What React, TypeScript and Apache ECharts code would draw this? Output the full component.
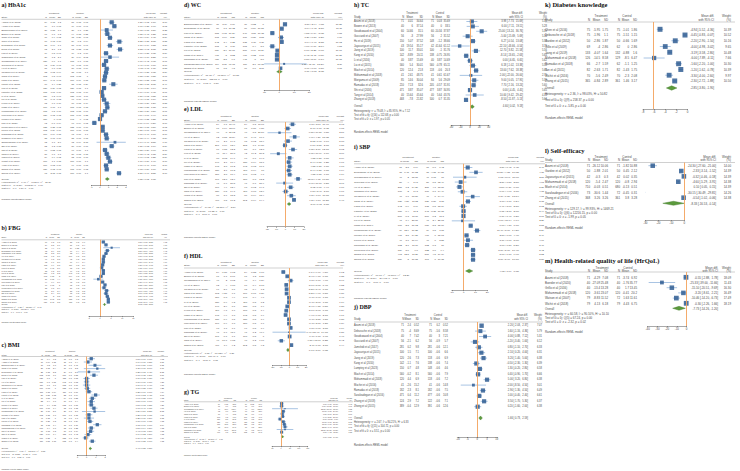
import { useEffect, useRef } from "react";
import * as echarts from "echarts";

type Arm = [number, number, number, number, number, number];
type Eff = [number, number, number, number];
type Ov = [number, number, number];

// ---------- a) HbA1c ----------
const hba1cStudies = ["Adachi et al (2013)", "Azami et al (2018)", "Balamurugan et al (2006)", "Bowen et al (2013)", "Chao et al (2015)", "Chen et al (2016)", "Debussche et al (2018)", "Dong et al (2018)", "Fan et al (2016)", "Gagliardino et al (2013)", "Goudswaard et al (2004)", "Gucciardi et al (2007)", "Hu et al (2019)", "Jayasuriya et al (2015)", "Jiang et al (2019)", "Kang et al (2010)", "Khunti et al (2012)", "Kim et al (2015)", "Lamptey et al (2023)", "Li et al (2016)", "Liu et al (2015)", "Lynch et al (2019)", "Mash et al (2014)", "Mohammadi et al (2018)", "Moriyama et al (2009)", "Muchiri et al (2016)", "Pan et al (2020)", "Pichayapinyo et al (2019)", "Prezio et al (2013)", "Ramadas et al (2018)", "Ruggiero et al (2014)", "Sarafzadegan et al (2016)", "Shi et al (2016)", "Tan et al (2011)", "Tang et al (2014)", "Wang et al (2017)", "Wichit et al (2017)", "Yuan et al (2014)", "Zhang et al (2018)", "Zheng et al (2019)"];
const hba1cArms: Arm[] = [[54, 1.18, 1.2, 51, -0.18, 0.98], [79, 1.6, 0.95, 79, -0.07, 0.91], [30, 0.88, 1.6, 30, 0.1, 1.28], [96, 0.7, 1.3, 94, -0.15, 1.32], [76, 0.9, 1.02, 75, -0.26, 0.98], [60, 1.95, 1.16, 59, -0.3, 1.04], [58, 0.99, 1.1, 57, -0.17, 0.91], [62, 2.1, 1.2, 62, -0.23, 1.05], [79, 0.5, 0.97, 79, -0.2, 1.06], [30, 1.3, 2.1, 29, 0.14, 2.02], [120, 0.6, 1.1, 118, -0.1, 1.08], [92, 0.39, 0.98, 90, -0.08, 1.07], [81, 0.7, 1.05, 80, -0.08, 1.09], [83, 0.62, 0.99, 85, -0.08, 1.1], [103, 0.5, 0.97, 102, -0.08, 1.0], [104, 0.41, 0.98, 100, -0.09, 1.05], [60, 1.4, 1.35, 58, -0.15, 1.39], [120, 0.39, 1.02, 120, -0.08, 1.1], [115, 0.11, 1.06, 112, -0.08, 1.16], [136, 0.2, 0.97, 138, -0.07, 1.11], [89, 0.41, 1.03, 90, -0.06, 1.14], [62, 0.7, 1.16, 60, -0.08, 1.19], [110, 0.77, 1.1, 108, -0.08, 1.15], [115, 0.5, 1.06, 113, -0.08, 1.07], [120, 0.12, 1.12, 118, -0.07, 1.22], [150, 0.0, 0.95, 148, 0.0, 1.02], [92, -0.7, 1.04, 90, -0.04, 1.02], [125, 0.25, 1.02, 122, -0.06, 1.06], [102, 0.24, 1.09, 100, -0.07, 1.08], [100, 0.64, 1.05, 98, -0.06, 1.1], [85, 0.71, 1.06, 85, -0.07, 1.18], [12, 1.7, 2.6, 12, -0.04, 2.75], [82, 1.3, 1.05, 80, -0.06, 1.07], [90, 0.52, 1.08, 90, -0.06, 1.1], [80, 0.7, 1.1, 80, -0.08, 1.15], [84, 0.9, 1.12, 82, -0.07, 1.17], [100, 1.1, 1.05, 100, -0.06, 1.1], [100, 0.63, 1.06, 99, -0.07, 1.08], [120, 0.72, 0.98, 118, -0.06, 1.13], [98, 2.15, 1.08, 100, -0.06, 1.1]];
const hba1cEffects: Eff[] = [[1.36, 1.02, 1.70, 2.60], [1.67, 1.38, 1.96, 2.62], [0.78, 0.05, 1.51, 2.25], [0.85, 0.48, 1.22, 2.57], [1.16, 0.84, 1.48, 2.59], [2.25, 1.85, 2.65, 2.55], [1.16, 0.79, 1.53, 2.56], [2.33, 1.93, 2.73, 2.55], [0.70, 0.38, 1.02, 2.59], [1.16, 0.10, 2.22, 1.90], [0.70, 0.42, 0.98, 2.61], [0.47, 0.17, 0.77, 2.60], [0.78, 0.45, 1.11, 2.58], [0.70, 0.38, 1.02, 2.59], [0.58, 0.31, 0.85, 2.61], [0.50, 0.22, 0.78, 2.61], [1.55, 1.05, 2.05, 2.49], [0.47, 0.20, 0.74, 2.61], [0.19, -0.10, 0.48, 2.61], [0.27, 0.02, 0.52, 2.62], [0.47, 0.15, 0.79, 2.60], [0.78, 0.36, 1.20, 2.55], [0.85, 0.55, 1.15, 2.60], [0.58, 0.30, 0.86, 2.61], [0.19, -0.11, 0.49, 2.61], [0.00, -0.22, 0.22, 2.63], [-0.66, -0.96, -0.36, 2.60], [0.31, 0.05, 0.57, 2.62], [0.31, 0.01, 0.61, 2.61], [0.70, 0.40, 1.00, 2.60], [0.78, 0.44, 1.12, 2.59], [1.74, -0.40, 3.88, 1.16], [1.36, 1.03, 1.69, 2.59], [0.58, 0.26, 0.90, 2.60], [0.78, 0.43, 1.13, 2.59], [0.97, 0.62, 1.32, 2.59], [1.16, 0.86, 1.46, 2.60], [0.70, 0.40, 1.00, 2.60], [0.78, 0.50, 1.06, 2.61], [2.21, 1.90, 2.52, 2.60]];
const hba1cOverall: Ov = [0.85, 0.62, 1.08];
const hba1cHet = ["Heterogeneity: τ² = 0.46, I² = 96.21%, H² = 26.39", "Test of θi = θj: Q(39) = 1012.36, p = 0.00", "Test of θ = 0: z = 7.34, p = 0.00"];

// ---------- b) FBG ----------
const fbgStudies = ["Azami et al (2018)", "Bowen et al (2013)", "Chao et al (2015)", "Debussche et al (2018)", "Gagliardino et al (2013)", "Hu et al (2019)", "Jayasuriya et al (2015)", "Jiang et al (2019)", "Kang et al (2010)", "Kim et al (2015)", "Li et al (2016)", "Liu et al (2015)", "Mash et al (2014)", "Mohammadi et al (2018)", "Moriyama et al (2009)", "Pan et al (2020)", "Pichayapinyo et al (2019)", "Ramadas et al (2018)", "Shi et al (2016)", "Wang et al (2017)", "Zhang et al (2018)", "Zheng et al (2019)"];
const fbgArms: Arm[] = [[60, 1.2, 1.8, 58, -0.3, 1.6], [54, 2.2, 2.1, 51, -0.5, 2.4], [25, 4.9, 7.1, 24, -0.35, 6.2], [72, 2.9, 3.8, 70, -0.4, 3.4], [85, 2.3, 2.6, 83, -0.4, 2.9], [102, 1.5, 3.1, 100, -0.3, 2.8], [90, 1.2, 2.5, 92, -0.3, 2.8], [62, 1.1, 2.6, 60, -0.4, 2.4], [113, 0.9, 2.8, 110, -0.3, 2.9], [76, 0.45, 2.7, 75, -0.3, 2.6], [88, 1.2, 2.7, 90, -0.3, 2.6], [150, 1.2, 2.2, 148, -0.3, 2.2], [108, 0.15, 3.0, 104, -0.3, 2.9], [30, -1.05, 4.4, 30, -0.3, 4.5], [94, 0.9, 2.7, 95, -0.3, 2.8], [60, 1.95, 2.0, 62, -0.3, 1.8], [55, 1.5, 2.9, 57, -0.3, 2.8], [60, 2.7, 3.4, 58, -0.3, 3.2], [78, 2.4, 3.6, 75, -0.3, 3.3], [112, 3.0, 3.2, 110, -0.3, 3.3], [160, 3.45, 3.3, 158, -0.3, 3.5], [120, 3.45, 3.5, 118, -0.3, 3.3]];
const fbgEffects: Eff[] = [[1.50, 0.62, 2.38, 4.72], [2.70, 1.75, 3.65, 4.66], [5.25, 1.50, 9.00, 2.18], [3.30, 2.10, 4.50, 4.45], [2.70, 1.85, 3.55, 4.71], [1.80, 0.98, 2.62, 4.74], [1.50, 0.72, 2.28, 4.76], [1.50, 0.60, 2.40, 4.69], [1.20, 0.45, 1.95, 4.78], [0.75, -0.10, 1.60, 4.72], [1.50, 0.70, 2.30, 4.76], [1.50, 0.82, 2.18, 4.80], [0.45, -0.35, 1.25, 4.74], [-0.75, -3.00, 1.50, 3.21], [1.20, 0.40, 2.00, 4.75], [2.25, 1.30, 3.20, 4.66], [1.80, 0.75, 2.85, 4.61], [3.00, 1.80, 4.20, 4.46], [2.70, 1.62, 3.78, 4.57], [3.30, 2.45, 4.15, 4.71], [3.75, 3.00, 4.50, 4.79], [3.75, 2.90, 4.60, 4.75]];
const fbgOverall: Ov = [2.05, 1.52, 2.58];
const fbgHet = ["Heterogeneity: τ² = 1.32, I² = 88.13%, H² = 8.43", "Test of θi = θj: Q(21) = 176.58, p = 0.00", "Test of θ = 0: z = 7.61, p = 0.00"];

// ---------- c) BMI ----------
const bmiStudies = ["Adachi et al (2013)", "Azami et al (2018)", "Balamurugan et al (2006)", "Chao et al (2015)", "Debussche et al (2018)", "Dong et al (2018)", "Fan et al (2016)", "Hu et al (2019)", "Jayasuriya et al (2015)", "Jiang et al (2019)", "Kang et al (2010)", "Khunti et al (2012)", "Li et al (2016)", "Liu et al (2015)", "Lynch et al (2019)", "Mash et al (2014)", "Mohammadi et al (2018)", "Muchiri et al (2016)", "Pan et al (2020)", "Prezio et al (2013)", "Ramadas et al (2018)", "Sarafzadegan et al (2016)", "Shi et al (2016)", "Tan et al (2011)", "Wang et al (2017)", "Zhang et al (2018)"];
const bmiArms: Arm[] = [[71, 0.4, 1.2, 71, -0.1, 1.2], [76, 0.04, 1.35, 75, -0.1, 1.4], [30, 0.8, 1.3, 30, -0.1, 1.45], [20, 1.05, 2.4, 19, -0.1, 2.2], [25, 0.15, 2.2, 24, -0.1, 2.1], [102, 0.69, 1.6, 100, -0.1, 1.58], [120, -0.1, 1.0, 118, -0.1, 0.98], [150, -0.1, 0.95, 148, -0.1, 0.92], [110, -0.1, 1.1, 108, -0.1, 1.06], [160, -0.03, 1.0, 158, -0.1, 1.03], [113, 0.15, 0.94, 110, -0.1, 0.99], [80, 0.87, 1.02, 82, -0.1, 1.04], [96, 0.51, 0.9, 94, -0.1, 0.88], [88, 0.4, 1.3, 90, -0.1, 1.4], [140, 0.4, 0.98, 138, -0.1, 0.95], [100, 0.69, 1.4, 98, -0.1, 1.38], [20, 0.76, 2.1, 20, -0.1, 2.3], [102, 0.15, 1.3, 100, -0.1, 1.35], [46, 0.15, 1.0, 45, -0.1, 1.3], [90, 0.26, 1.2, 92, -0.1, 1.24], [75, 1.05, 1.4, 73, -0.1, 1.36], [100, 0.4, 1.3, 98, -0.1, 1.28], [90, 0.33, 1.2, 90, -0.1, 1.34], [120, 0.04, 1.4, 118, -0.1, 1.42], [160, -0.21, 1.0, 158, -0.1, 1.03], [110, 0.51, 1.33, 108, -0.1, 1.4]];
const bmiEffects: Eff[] = [[0.50, 0.10, 0.90, 4.02], [0.14, -0.30, 0.58, 3.95], [0.90, 0.20, 1.60, 3.35], [1.15, -0.30, 2.60, 1.97], [0.25, -0.95, 1.45, 2.38], [0.79, 0.35, 1.23, 3.96], [0.00, -0.35, 0.35, 4.17], [0.00, -0.30, 0.30, 4.23], [0.00, -0.40, 0.40, 4.10], [0.07, -0.25, 0.39, 4.25], [0.25, -0.10, 0.60, 4.14], [0.97, 0.52, 1.42, 3.93], [0.61, 0.25, 0.97, 4.12], [0.50, 0.10, 0.90, 4.03], [0.50, 0.18, 0.82, 4.20], [0.79, 0.40, 1.18, 4.07], [0.86, -0.50, 2.22, 2.12], [0.25, -0.12, 0.62, 4.11], [0.25, -0.30, 0.80, 3.78], [0.36, 0.00, 0.72, 4.12], [1.15, 0.70, 1.60, 3.94], [0.50, 0.14, 0.86, 4.12], [0.43, 0.05, 0.81, 4.08], [0.14, -0.22, 0.50, 4.12], [-0.11, -0.42, 0.20, 4.19], [0.61, 0.25, 0.97, 4.12]];
const bmiOverall: Ov = [0.40, 0.25, 0.55];
const bmiHet = ["Heterogeneity: τ² = 0.10, I² = 72.07%, H² = 3.58", "Test of θi = θj: Q(25) = 94.26, p = 0.00", "Test of θ = 0: z = 5.21, p = 0.00"];

// ---------- d) WC ----------
const wcStudies = ["Balamurugan et al (2006)", "Debussche et al (2018)", "Fan et al (2016)", "Jiang et al (2019)", "Kang et al (2010)", "Lamptey et al (2023)", "Liu et al (2015)", "Mash et al (2014)", "Ramadas et al (2018)", "Sarafzadegan et al (2016)", "Zhang et al (2018)"];
const wcArms: Arm[] = [[70, 3.34, 6.69, 70, -0.52, 6.0], [60, 1.1, 10.32, 60, -0.54, 10.51], [153, -1.01, 10.24, 146, 3.57, 10.38], [103, 0.64, 8.29, 100, -0.56, 8.53], [142, 3.4, 6.28, 138, 1.76, 7.36], [103, -5, 7.76, 103, -0.4, 8.1], [759, -2.9, 10.07, 800, -1.74, 11.24], [471, -3, 8.52, 477, -1.52, 6.67], [450, -2.5, 9.1, 445, -1, 8.6], [114, 5.89, 90.73, 116, 2.6, 60.05], [91, 1.5, 4.8, 90, 0.6, 2.07]];
const wcEffects: Eff[] = [[3.86, 2.94, 4.78, 10.21], [1.64, 0.48, 2.80, 10.11], [-4.58, -6.14, -3.02, 9.83], [1.20, -0.80, 3.20, 9.66], [1.64, 0.40, 2.88, 10.12], [-4.60, -6.66, -2.54, 9.53], [-1.16, -2.25, -0.07, 10.17], [-1.48, -2.45, -0.51, 10.21], [-1.50, -2.66, -0.34, 10.15], [3.29, -11.71, 18.29, 2.36], [0.90, -0.06, 1.86, 7.65]];
const wcOverall: Ov = [0.17, -1.68, 2.02];
const wcHet = ["Heterogeneity: τ² = 11.95, I² = 93.81%, H² = 16.21", "Test of θi = θj: Q(10) = 115.15, p = 0.00", "Test of θ = 0: z = 0.18, p = 0.86"];

// ---------- e) LDL ----------
const ldlStudies = ["Azami et al (2018)", "Bowen et al (2013)", "Goudswaard et al (2004)", "Hu et al (2019)", "Jayasuriya et al (2015)", "Jiang et al (2019)", "Kang et al (2010)", "Kim et al (2015)", "Li et al (2016)", "Liu et al (2015)", "Mash et al (2014)", "Mohammadi et al (2018)", "Moriyama et al (2009)", "Pan et al (2020)", "Ramadas et al (2018)", "Shi et al (2016)", "Tang et al (2014)", "Wang et al (2017)", "Zhang et al (2018)"];
const ldlArms: Arm[] = [[54, 0.1, 10.46, 54, -7.5, 10.07], [71, 1.04, 12.06, 71, -1.37, 9.26], [40, -8, 31.72, 40, -1.5, 27.56], [62, 8.55, 15.24, 60, -1.41, 16.6], [96, 2.1, 14.1, 95, -0.62, 15.9], [207, 0.09, 13.9, 203, 0.7, 14.36], [60, 6.55, 12.2, 58, -1.6, 12.8], [40, 11.4, 20.8, 42, 19.2, 20.3], [88, 3.83, 14.6, 90, -0.7, 14.8], [140, 2.7, 16.4, 138, -0.74, 15.7], [145, 3.8, 10.2, 143, -0.73, 10.1], [120, 2.7, 10.3, 118, -0.74, 10.0], [150, 3.8, 10.4, 148, -0.73, 9.6], [160, 12.8, 12.6, 158, -0.8, 13.2], [41, -1.6, 20.5, 41, -0.7, 21.9], [100, 4.9, 13.4, 98, -0.72, 14.1], [120, -0.5, 14.1, 118, -0.68, 13.9], [80, 5.6, 15.3, 80, -0.74, 15.4], [400, 8.5, 16.2, 392, -0.74, 14.4]];
const ldlEffects: Eff[] = [[7.60, 3.71, 11.49, 5.95], [2.41, -1.10, 5.92, 6.05], [-6.50, -19.51, 6.51, 2.51], [9.96, 4.30, 15.62, 5.56], [2.72, -1.60, 7.04, 5.88], [-0.61, -3.30, 2.08, 6.31], [8.15, 3.60, 12.70, 5.82], [-7.80, -16.69, 1.09, 3.86], [4.53, 0.20, 8.86, 5.89], [3.44, -0.37, 7.25, 6.01], [4.53, 1.20, 7.86, 6.18], [3.44, -0.20, 7.08, 6.04], [4.53, 1.30, 7.76, 6.19], [13.60, 9.63, 17.57, 5.94], [-0.90, -10.10, 8.30, 3.71], [5.62, 1.80, 9.44, 6.00], [0.18, -3.40, 3.76, 6.07], [6.34, 1.60, 11.08, 5.81], [9.24, 7.10, 11.38, 6.40]];
const ldlOverall: Ov = [3.90, 1.92, 5.88];
const ldlHet = ["Heterogeneity: τ² = 14.62, I² = 72.15%, H² = 3.59", "Test of θi = θj: Q(18) = 67.32, p = 0.00", "Test of θ = 0: z = 3.86, p = 0.00"];

// ---------- f) HDL ----------
const hdlStudies = ["Azami et al (2018)", "Bowen et al (2013)", "Goudswaard et al (2004)", "Hu et al (2019)", "Jayasuriya et al (2015)", "Jiang et al (2019)", "Kang et al (2010)", "Li et al (2016)", "Liu et al (2015)", "Lynch et al (2019)", "Mash et al (2014)", "Mohammadi et al (2018)", "Moriyama et al (2009)", "Pan et al (2020)", "Ramadas et al (2018)", "Shi et al (2016)", "Tang et al (2014)", "Zhang et al (2018)"];
const hdlArms: Arm[] = [[54, -7.37, 6.63, 54, -0.23, 7.06], [71, -1.1, 5.07, 71, 1.3, 5.26], [40, 2, 8.02, 40, 0.4, 7.24], [62, -4, 7.08, 60, -0.4, 5.18], [96, -3.6, 8.1, 95, -0.4, 7.3], [103, -4.21, 6.1, 100, -1.01, 6.29], [150, -0.8, 4.9, 148, -0.4, 4.6], [120, -0.9, 9.3, 118, -0.5, 8.2], [140, -2.9, 8.1, 138, -0.5, 7.9], [110, -4.1, 7.6, 108, -0.5, 7.4], [145, -4.9, 7.8, 143, -0.5, 6.9], [130, -0.9, 7.5, 128, -0.5, 7.9], [160, -0.9, 7.8, 158, -0.5, 7.6], [98, 1.1, 7.7, 96, -0.5, 7.9], [41, -1.6, 45.6, 41, -1.2, 46.9], [171, -0.1, 7.1, 168, -0.5, 7.0], [40, -10.7, 9.83, 40, -1.2, 9.66], [400, 1.9, 9.2, 392, -0.5, 9.3]];
const hdlEffects: Eff[] = [[-7.14, -9.69, -4.59, 6.12], [-2.40, -4.10, -0.70, 6.35], [1.60, -1.76, 4.96, 5.90], [-3.60, -5.80, -1.40, 6.22], [-3.20, -5.40, -1.00, 6.21], [-3.20, -4.90, -1.50, 6.36], [-0.40, -1.90, 1.10, 6.40], [-0.40, -2.60, 1.80, 6.19], [-2.40, -4.30, -0.50, 6.28], [-3.60, -5.60, -1.60, 6.24], [-4.40, -6.70, -2.10, 6.17], [-0.40, -2.30, 1.50, 6.28], [-0.40, -2.10, 1.30, 6.34], [1.60, -0.60, 3.80, 6.19], [-0.40, -20.40, 19.60, 1.21], [0.40, -1.10, 1.90, 6.40], [-9.50, -13.77, -5.23, 5.42], [2.40, 1.10, 3.70, 6.44]];
const hdlOverall: Ov = [-1.61, -3.19, -0.03];
const hdlHet = ["Heterogeneity: τ² = 8.15, I² = 86.12%, H² = 7.21", "Test of θi = θj: Q(17) = 116.40, p = 0.00", "Test of θ = 0: z = -2.00, p = 0.05"];

// ---------- g) TG ----------
const tgStudies = ["Azami et al (2018)", "Bowen et al (2013)", "Goudswaard et al (2004)", "Hu et al (2019)", "Jiang et al (2019)", "Kang et al (2010)", "Li et al (2016)", "Mash et al (2014)", "Mohammadi et al (2018)", "Pan et al (2020)", "Ramadas et al (2018)", "Zhang et al (2018)"];
const tgArms: Arm[] = [[54, 1.38, 32.8, 54, -2.32, 19.6], [71, 0.6, 45.2, 71, -3.1, 39.8], [40, 18.6, 175.4, 40, -3.9, 152.3], [62, 9.9, 33.8, 60, -3.2, 32.6], [96, 4.4, 48.2, 95, -3.1, 44.1], [103, 6.2, 43.9, 100, -3.2, 40.1], [150, -8.8, 56.2, 148, -3.2, 50.5], [120, 9.9, 57.6, 118, -3.2, 53.1], [130, 15.5, 52.3, 128, -3.2, 50.4], [98, 19.3, 54.8, 96, -3.2, 52.9], [41, 19.3, 110.5, 41, -3.2, 104.6], [400, 0.5, 57.2, 392, -3.2, 54.8]];
const tgEffects: Eff[] = [[3.70, -6.30, 13.70, 9.45], [3.70, -10.20, 17.60, 9.01], [22.50, -50.10, 95.10, 1.52], [13.10, 1.30, 24.90, 9.09], [7.50, -5.60, 20.60, 8.97], [9.40, -2.20, 21.00, 9.14], [-5.60, -17.80, 6.60, 9.02], [13.10, -1.10, 27.30, 8.75], [18.70, 6.10, 31.30, 8.96], [22.50, 7.40, 37.60, 8.62], [22.50, -24.20, 69.20, 3.10], [3.70, -4.10, 11.50, 9.55]];
const tgOverall: Ov = [9.00, 3.21, 14.79];
const tgHet = ["Heterogeneity: τ² = 24.75, I² = 26.80%, H² = 1.37", "Test of θi = θj: Q(11) = 15.03, p = 0.18", "Test of θ = 0: z = 3.05, p = 0.00"];

// ---------- h) TC ----------
const tcStudies = ["Azami et al (2018)", "Bowen et al (2013)", "Goudswaard et al (2004)", "Gucciardi et al (2007)", "Hu et al (2019)", "Jayasuriya et al (2015)", "Jiang et al (2019)", "Kang et al (2010)", "Li et al (2016)", "Liu et al (2015)", "Mash et al (2014)", "Mohammadi et al (2018)", "Moriyama et al (2009)", "Ramadas et al (2018)", "Shi et al (2016)", "Tang et al (2014)", "Zhang et al (2018)"];
const tcArms: Arm[] = [[71, 4.01, 34.64, 71, 0.03, 35.69], [40, 6, 37.14, 40, 0, 33.5], [60, 14.66, 31.5, 60, -10.34, 37.87], [56, -3, 27.99, 56, 2, 31.52], [150, 5.07, 37.52, 148, -1.2, 38.66], [43, 19.54, 35.17, 42, 41.64, 61.12], [100, 11.7, 33.01, 100, -1, 31.76], [142, -8.89, 20.11, 138, -0.75, 26.95], [40, 3.87, 15.69, 40, 3.87, 14.69], [560, 5.4, 30.01, 560, -0.78, 65.11], [120, 12.4, 21.8, 118, -0.6, 20.3], [41, 2.61, 48.75, 41, 0.61, 61.67], [85, 14.6, 30.04, 84, 5.6, 29.09], [210, 7.13, 32.6, 205, -0.57, 31.91], [471, 3.87, 35.07, 477, 3.87, 34.95], [40, 15.64, 45.64, 40, 5.64, 43.76], [468, -7.8, 21.82, 500, 0.7, 31.35]];
const tcEffects: Eff[] = [[3.98, -7.73, 15.69, 5.35], [6.00, -7.11, 19.11, 5.28], [25.00, 13.24, 36.76, 5.39], [-5.00, -15.69, 5.69, 5.34], [6.27, -0.54, 13.08, 5.58], [-22.10, -43.66, -0.54, 3.79], [12.70, 3.82, 21.58, 5.56], [-8.14, -13.65, -2.63, 5.64], [0.00, -6.65, 6.65, 5.62], [6.18, -1.02, 13.38, 5.58], [13.00, 7.62, 18.38, 5.66], [2.00, -22.00, 26.00, 2.75], [9.00, 0.05, 17.95, 5.39], [7.70, 2.16, 13.24, 5.60], [0.00, -4.45, 4.45, 5.65], [10.00, -9.42, 29.42, 4.33], [-8.50, -11.87, -5.13, 5.64]];
const tcOverall: Ov = [4.60, 0.02, 9.18];
const tcHet = ["Heterogeneity: τ² = 79.48, I² = 85.95%, H² = 7.12", "Test of θi = θj: Q(16) = 112.68, p = 0.00", "Test of θ = 0: z = 1.97, p = 0.05"];

// ---------- i) SBP ----------
const sbpStudies = ["Azami et al (2018)", "Debussche et al (2018)", "Goudswaard et al (2004)", "Gucciardi et al (2007)", "Hu et al (2019)", "Jamshidi et al (2017)", "Jayasuriya et al (2015)", "Jiang et al (2019)", "Kang et al (2010)", "Lamptey et al (2023)", "Li et al (2016)", "Liu et al (2015)", "Mash et al (2014)", "Mohammadi et al (2018)", "Muchiri et al (2016)", "Prezio et al (2013)", "Ramadas et al (2018)", "Trouilloud et al (2013)", "Zhang et al (2018)", "Zhong et al (2015)"];
const sbpArms: Arm[] = [[71, 2.8, 7.14, 71, -0.7, 6.42], [75, 6.45, 19.52, 75, -4.05, 14.81], [40, 2, 18.87, 40, 0.95, 17], [56, -4, 14.5, 56, -1.5, 12.49], [281, 1.2, 14.26, 281, 4.7, 18.87], [100, -2, 14.3, 100, -1.1, 14.49], [40, 7.7, 13.56, 40, 0, 14.44], [120, 4.56, 11.82, 120, 0.86, 8.15], [142, -0.9, 7.99, 138, -0.5, 18.19], [150, -0.4, 10.2, 148, -0.35, 10.05], [560, -0.3, 11.06, 560, -0.2, 11.3], [41, 1.4, 23.87, 41, 2.4, 25.03], [710, -2.8, 10.12, 680, -8.8, 15.66], [79, 12.9, 10.25, 79, 1.5, 7.65], [471, 2.5, 14.21, 477, 0, 15.63], [40, 3.7, 10.64, 40, 0, 8.55], [182, 2.7, 11.16, 182, -0.3, 10.0], [124, 8.6, 9.6, 122, 0.6, 9.4], [498, 12.5, 11.26, 500, 4.5, 19.34], [389, 8, 10.88, 391, 0, 10.38]];
const sbpEffects: Eff[] = [[3.50, -0.45, 7.45, 5.40], [10.50, 4.88, 16.12, 4.31], [1.05, -8.97, 11.07, 2.57], [-2.50, -7.50, 2.50, 4.63], [-3.50, -6.30, -0.70, 5.27], [-0.90, -4.90, 3.10, 4.78], [7.70, 1.56, 13.84, 4.08], [3.70, 1.16, 6.24, 5.33], [-0.40, -3.60, 2.80, 5.12], [-0.05, -2.10, 2.00, 5.44], [-0.10, -1.40, 1.20, 5.61], [-1.00, -11.74, 9.74, 2.26], [6.00, 4.30, 7.70, 5.53], [11.40, 8.60, 14.20, 5.24], [2.50, 0.60, 4.40, 5.49], [3.70, -0.60, 8.00, 4.90], [3.00, 0.80, 5.20, 5.46], [8.00, 5.60, 10.40, 5.42], [8.00, 6.10, 9.90, 5.52], [8.00, 5.90, 10.10, 5.50]];
const sbpOverall: Ov = [4.72, 1.69, 7.75];
const sbpHet = ["Heterogeneity: τ² = 17.76, I² = 91.80%, H² = 12.20", "Test of θi = θj: Q(19) = 244.18, p = 0.00", "Test of θ = 0: z = 3.06, p = 0.00"];

// ---------- j) DBP ----------
const dbpStudies = ["Azami et al (2018)", "Debussche et al (2018)", "Goudswaard et al (2004)", "Gucciardi et al (2007)", "Jamshidi et al (2017)", "Jayasuriya et al (2015)", "Jiang et al (2019)", "Kang et al (2010)", "Lamptey et al (2023)", "Mash et al (2014)", "Mohammadi et al (2018)", "Muchiri et al (2016)", "Ramadas et al (2018)", "Sarafzadegan et al (2016)", "Zhang et al (2018)", "Zhong et al (2015)"];
const dbpArms: Arm[] = [[71, 2.4, 0.52, 71, 0.2, 0.52], [75, -4, 8.69, 75, -5.6, 8.58], [40, 7, 7.42, 40, 3, 7.21], [56, -2.1, 6.2, 56, -0.9, 5.7], [281, 0.2, 9.8, 281, -0.6, 12.1], [100, 1.5, 7.1, 100, -0.6, 6.6], [120, 2.6, 7.3, 118, -0.6, 6.9], [142, -1.1, 7.6, 138, -0.6, 7.4], [150, 0.7, 4.8, 148, -0.6, 4.6], [560, -0.2, 8.1, 560, -0.6, 7.9], [120, 4.4, 6.9, 118, -0.6, 7.2], [41, -2.6, 15.2, 41, -0.6, 14.8], [182, 2.3, 8.1, 182, -0.6, 7.5], [471, 0.4, 11.2, 477, -0.6, 10.8], [124, 2.9, 7.2, 122, -0.6, 7.1], [389, -0.4, 12.9, 391, -0.6, 12.6]];
const dbpEffects: Eff[] = [[2.20, 2.03, 2.37, 7.07], [1.60, -1.16, 4.36, 5.79], [4.00, 0.88, 7.12, 5.31], [-1.20, -3.40, 1.00, 6.12], [0.80, -1.10, 2.70, 6.33], [2.10, 0.20, 4.00, 6.31], [3.20, 1.40, 5.00, 6.38], [-0.50, -2.30, 1.30, 6.39], [1.30, -0.20, 2.80, 6.58], [0.40, -0.90, 1.70, 6.66], [5.00, 3.20, 6.80, 6.38], [-2.00, -8.50, 4.50, 3.01], [2.90, 1.30, 4.50, 6.49], [1.00, -0.40, 2.40, 6.61], [3.50, 1.70, 5.30, 6.37], [0.20, -1.60, 2.00, 6.38]];
const dbpOverall: Ov = [1.66, 0.73, 2.59];
const dbpHet = ["Heterogeneity: τ² = 2.67, I² = 84.21%, H² = 6.33", "Test of θi = θj: Q(15) = 104.72, p = 0.00", "Test of θ = 0: z = 3.51, p = 0.00"];

// ---------- k) Diabetes knowledge ----------
const dkStudies = ["Chen et al (2016)", "Debussche et al (2018)", "Gardee et al (2012)", "Gillis et al (2019)", "Jiang et al (2019)", "Mohammadi et al (2018)", "Ramadas et al (2018)", "Tan et al (2011)", "Wichit et al (2016)", "Zhong et al (2015)"];
const dkArms: Arm[] = [[75, -5.95, 1.75, 75, -1.01, 1.86], [75, -1.96, 1.1, 75, -1.51, 1.15], [50, -2.86, 1.87, 50, -0.66, 1.69], [69, -4, 2.86, 62, 0, 2.86], [133, -4.07, 1.64, 132, -0.88, 1.6], [126, -14.5, 8.58, 129, -8.5, 6.47], [66, -2.7, 1.59, 62, -1.1, 1.25], [82, -2.63, 1.71, 82, -1.43, 1.75], [70, -5.6, 2.49, 70, -2.3, 2.08], [365, -0.84, 2.89, 361, 1.46, 3.17]];
const dkEffects: Eff[] = [[-4.94, -5.52, -4.36, 10.39], [-0.45, -0.83, -0.07, 10.52], [-2.20, -2.90, -1.50, 10.16], [-4.00, -4.98, -3.02, 9.65], [-3.19, -3.58, -2.80, 10.48], [-6.00, -7.89, -4.11, 7.66], [-1.60, -2.20, -1.00, 10.30], [-1.20, -1.62, -0.78, 10.39], [-3.30, -4.00, -2.60, 9.97], [-2.30, -2.72, -1.88, 10.50]];
const dkOverall: Ov = [-2.85, -3.80, -1.90];
const dkHet = ["Heterogeneity: τ² = 2.36, I² = 98.03%, H² = 50.82", "Test of θi = θj: Q(9) = 258.37, p = 0.00", "Test of θ = 0: z = -5.85, p = 0.00"];

// ---------- l) Self-efficacy ----------
const seStudies = ["Azami et al (2018)", "Gardee et al (2012)", "Jayasuriya et al (2015)", "Mohammadi et al (2018)", "Mash et al (2014)", "Sarafzadegan et al (2016)", "Zhong et al (2015)"];
const seArms: Arm[] = [[71, -26.12, 10.06, 71, -1.82, 10.88], [50, -1.88, 2.01, 50, 0.45, 2.12], [42, -0.3, 0.3, 42, 0.02, 0.35], [120, -5.4, 2.47, 120, -0.8, 2.94], [710, -0.03, 0.51, 680, -0.13, 0.51], [73, -30.6, 1.44, 72, -0.45, 0.31], [368, 3.26, 3.26, 361, 3.8, 3.28]];
const seEffects: Eff[] = [[-24.30, -27.60, -21.00, 14.00], [-2.33, -3.14, -1.52, 14.39], [-0.32, -0.46, -0.18, 14.39], [-4.60, -5.29, -3.91, 14.38], [0.10, 0.05, 0.15, 14.39], [-30.15, -30.49, -29.81, 14.26], [-0.54, -1.02, -0.06, 14.38]];
const seOverall: Ov = [-8.33, -16.53, -0.14];
const seHet = ["Heterogeneity: τ² = 129.17, I² = 99.93%, H² = 1469.21", "Test of θi = θj: Q(6) = 12216.15, p = 0.00", "Test of θ = 0: z = -1.99, p = 0.05"];

// ---------- m) HrQoL ----------
const qolStudies = ["Azami et al (2018)", "Boerder et al (2020)", "Grillo et al (2016)", "Mohammadi et al (2018)", "Watson et al (2007)", "Wichit et al (2018)"];
const qolArms: Arm[] = [[71, -4.29, 7.08, 71, -3.74, 6.92], [40, -27.09, 25.48, 40, -1.76, 35.77], [40, -13.4, 13.28, 40, 1.7, 13.45], [120, -3.61, 23.07, 120, -0.41, 20.2], [79, -8.83, 11.52, 72, 1.63, 11.61], [79, 4.13, 6.18, 79, 4.43, 6.75]];
const qolEffects: Eff[] = [[-0.55, -2.88, 1.78, 18.09], [-25.33, -39.00, -11.66, 11.43], [-15.10, -20.51, -9.69, 16.30], [-3.20, -8.61, 2.21, 16.49], [-10.46, -14.20, -6.73, 17.49], [-0.30, -2.26, 1.66, 18.19]];
const qolOverall: Ov = [-7.73, -14.26, -1.20];
const qolHet = ["Heterogeneity: τ² = 60.58, I² = 90.10%, H² = 10.10", "Test of θi = θj: Q(5) = 67.24, p = 0.00", "Test of θ = 0: z = -2.32, p = 0.02"];

// ---------- layout (positions only) ----------
interface Lay {
  x0: number; titleY: number; h1: number; h2: number; line: number; lineR: number;
  row0: number; step: number; ov: number; het0: number; hetStep: number; axisY: number; randY: number;
  px0: number; px1: number; min: number; max: number; interval: number; orange: number;
  c: number[]; trt: number; ctl: number; ci: number; w: number; fs: number; sq: number; tfs: number;
}

const colA = { c: [47, 55, 61, 74, 81, 88], trt: 54, ctl: 80 };
const colD = { c: [219, 227, 235, 247, 256, 264], trt: 226, ctl: 255 };
const colH = { c: [404, 413, 423, 434, 442, 450], trt: 412, ctl: 440 };
const colK = { c: [590, 600, 608, 620, 629, 637], trt: 601, ctl: 627 };

const LAY: Record<string, Lay> = {
  a: { x0: 1.5, titleY: 4.5, h1: 13, h2: 16.8, line: 19.3, lineR: 170, row0: 22.3, step: 3.87, ov: 179, het0: 182.3, hetStep: 2.9, axisY: 185, randY: 199, px0: 91.4, px1: 125.8, min: -1, max: 3, interval: 1, orange: 0, ...colA, ci: 156, w: 167, fs: 2.3, sq: 4.2, tfs: 6 },
  b: { x0: 1.5, titleY: 227.5, h1: 234, h2: 237.5, line: 239.8, lineR: 170, row0: 242, step: 2.86, ov: 304.5, het0: 306.8, hetStep: 2.4, axisY: 316, randY: 322, px0: 88.9, px1: 133.3, min: -5, max: 15, interval: 5, orange: 0, c: [47, 54, 60, 72, 79, 85], trt: 55, ctl: 79, ci: 153, w: 167, fs: 1.9, sq: 3.2, tfs: 6 },
  c: { x0: 1.5, titleY: 345, h1: 351.5, h2: 354.8, line: 356.5, lineR: 168, row0: 358.7, step: 3.3, ov: 448.5, het0: 451.5, hetStep: 2.7, axisY: 455, randY: 469, px0: 77.3, px1: 105.2, min: -1, max: 2, interval: 1, orange: 0, c: [43, 50, 56, 66, 72, 78], trt: 50, ctl: 72, ci: 152, w: 164, fs: 2.1, sq: 3.4, tfs: 6 },
  d: { x0: 184, titleY: 4.5, h1: 13.3, h2: 17, line: 19.3, lineR: 343, row0: 24.3, step: 4.4, ov: 71.7, het0: 75.5, hetStep: 4, axisY: 90, randY: 101, px0: 264.2, px1: 309.2, min: -10, max: 20, interval: 10, orange: 0, ...colD, ci: 324, w: 342, fs: 2.5, sq: 4.2, tfs: 6 },
  e: { x0: 184, titleY: 108.5, h1: 116, h2: 120, line: 122, lineR: 343, row0: 124.3, step: 4.2, ov: 204, het0: 207.5, hetStep: 3.5, axisY: 226.7, randY: 237, px0: 267.1, px1: 303.9, min: -20, max: 20, interval: 10, orange: 0, ...colD, ci: 329, w: 344, fs: 2.4, sq: 3.8, tfs: 6 },
  f: { x0: 184, titleY: 256, h1: 262, h2: 265.7, line: 268, lineR: 343, row0: 272, step: 4.3, ov: 350, het0: 353, hetStep: 3.5, axisY: 365, randY: 374, px0: 272.5, px1: 306.1, min: -20, max: 20, interval: 10, orange: 0, ...colD, ci: 328, w: 344, fs: 2.4, sq: 3.8, tfs: 6 },
  g: { x0: 184, titleY: 392, h1: 397.7, h2: 400.2, line: 401.8, lineR: 353, row0: 403.5, step: 2.6, ov: 436.7, het0: 439, hetStep: 1.9, axisY: 446, randY: 455, px0: 272.1, px1: 307.7, min: -50, max: 150, interval: 50, orange: 0, c: [220, 228, 236, 247, 254, 262], trt: 228, ctl: 254, ci: 338, w: 352, fs: 1.8, sq: 3, tfs: 6 },
  h: { x0: 354, titleY: 4.5, h1: 13.3, h2: 17.2, line: 19.3, lineR: 548, row0: 21.5, step: 4.9, ov: 106.7, het0: 111, hetStep: 4, axisY: 125, randY: 132.7, px0: 451.3, px1: 488.7, min: -40, max: 40, interval: 20, orange: 0, ...colH, ci: 523, w: 547, fs: 2.6, sq: 4.2, tfs: 6 },
  i: { x0: 354, titleY: 147, h1: 157, h2: 161.5, line: 163.8, lineR: 545, row0: 167.5, step: 4.85, ov: 271, het0: 275, hetStep: 3.7, axisY: 290, randY: 298, px0: 451.8, px1: 487.2, min: -10, max: 20, interval: 10, orange: 0, c: [402, 409, 418, 429, 436, 444], trt: 408, ctl: 436, ci: 519, w: 544, fs: 2.5, sq: 4.2, tfs: 6 },
  j: { x0: 354, titleY: 307, h1: 315, h2: 319.7, line: 322, lineR: 543, row0: 325.7, step: 5.4, ov: 418, het0: 422, hetStep: 4.7, axisY: 437, randY: 445, px0: 457.8, px1: 496.8, min: -10, max: 10, interval: 5, orange: 0, c: [404, 411, 419, 432, 440, 448], trt: 410, ctl: 438, ci: 528, w: 542, fs: 2.6, sq: 4.4, tfs: 6 },
  k: { x0: 545, titleY: 4.5, h1: 16, h2: 19.2, line: 22, lineR: 735, row0: 29.3, step: 5.74, ov: 88, het0: 94, hetStep: 6, axisY: 109, randY: 117.5, px0: 643, px1: 687.5, min: -8, max: 0, interval: 2, orange: -6.1, ...colK, ci: 714, w: 731, fs: 2.9, sq: 5, tfs: 6.5 },
  l: { x0: 545, titleY: 150, h1: 156.7, h2: 160, line: 162.5, lineR: 735, row0: 165.7, step: 5.33, ov: 203.3, het0: 209, hetStep: 3.7, axisY: 220, randY: 227.3, px0: 645.3, px1: 684.3, min: -30, max: 0, interval: 10, orange: 0, ...colK, ci: 716, w: 731, fs: 2.9, sq: 4.6, tfs: 6.5 },
  m: { x0: 545, titleY: 260, h1: 267.5, h2: 270.3, line: 272, lineR: 735, row0: 277.3, step: 5.2, ov: 308.3, het0: 314, hetStep: 4, axisY: 326, randY: 332, px0: 647.7, px1: 686.5, min: -40, max: 0, interval: 10, orange: 0, c: [590, 600, 608, 620, 629, 637], trt: 602, ctl: 628, ci: 718, w: 731, fs: 2.9, sq: 4.8, tfs: 6.5 },
};

interface Panel { key: string; title: string; studies: string[]; arms: Arm[]; effects: Eff[]; overall: Ov; het: string[]; }

const PANELS: Panel[] = [
  { key: "a", title: "a) HbA1c", studies: hba1cStudies, arms: hba1cArms, effects: hba1cEffects, overall: hba1cOverall, het: hba1cHet },
  { key: "b", title: "b) FBG", studies: fbgStudies, arms: fbgArms, effects: fbgEffects, overall: fbgOverall, het: fbgHet },
  { key: "c", title: "c) BMI", studies: bmiStudies, arms: bmiArms, effects: bmiEffects, overall: bmiOverall, het: bmiHet },
  { key: "d", title: "d) WC", studies: wcStudies, arms: wcArms, effects: wcEffects, overall: wcOverall, het: wcHet },
  { key: "e", title: "e) LDL", studies: ldlStudies, arms: ldlArms, effects: ldlEffects, overall: ldlOverall, het: ldlHet },
  { key: "f", title: "f) HDL", studies: hdlStudies, arms: hdlArms, effects: hdlEffects, overall: hdlOverall, het: hdlHet },
  { key: "g", title: "g) TG", studies: tgStudies, arms: tgArms, effects: tgEffects, overall: tgOverall, het: tgHet },
  { key: "h", title: "h) TC", studies: tcStudies, arms: tcArms, effects: tcEffects, overall: tcOverall, het: tcHet },
  { key: "i", title: "i) SBP", studies: sbpStudies, arms: sbpArms, effects: sbpEffects, overall: sbpOverall, het: sbpHet },
  { key: "j", title: "j) DBP", studies: dbpStudies, arms: dbpArms, effects: dbpEffects, overall: dbpOverall, het: dbpHet },
  { key: "k", title: "k) Diabetes knowledge", studies: dkStudies, arms: dkArms, effects: dkEffects, overall: dkOverall, het: dkHet },
  { key: "l", title: "l) Self-efficacy", studies: seStudies, arms: seArms, effects: seEffects, overall: seOverall, het: seHet },
  { key: "m", title: "m) Health-related quality of life (HrQoL)", studies: qolStudies, arms: qolArms, effects: qolEffects, overall: qolOverall, het: qolHet },
];

const SANS = '"Liberation Sans", Arial, sans-serif';
const SERIF = '"Liberation Serif", "Times New Roman", serif';
const TXT = "#4a4a4a";
const SQ = "#24548c";
const CI = "#9fbde0";
const ORANGE = "#f3a25a";

const f2 = (v: number) => v.toFixed(2);
const sp = (v: number) => (v >= 0 ? " " : "") + f2(v);
const ciText = (md: number, lo: number, hi: number) => `${f2(md)} [${sp(lo)}, ${sp(hi)}]`;

function buildOption() {
  const grid: any[] = [];
  const xAxis: any[] = [];
  const yAxis: any[] = [];
  const series: any[] = [];
  const graphic: any[] = [];

  PANELS.forEach((p, gi) => {
    const L = LAY[p.key];
    const yMin = (L.line - L.row0) / L.step;
    const yMax = (L.axisY - L.row0) / L.step;
    const ovIdx = (L.ov - L.row0) / L.step;
    const maxW = Math.max(...p.effects.map((e) => e[3]));
    const fs = L.fs;

    grid.push({ left: L.px0, top: L.line, width: L.px1 - L.px0, height: L.axisY - L.line });
    xAxis.push({
      type: "value", gridIndex: gi, min: L.min, max: L.max, interval: L.interval,
      axisLine: { show: true, onZero: false, lineStyle: { color: "#555", width: 0.5 } },
      axisTick: { show: true, length: 1.2, lineStyle: { color: "#555", width: 0.5 } },
      axisLabel: { show: true, fontSize: fs, margin: 1.2, color: TXT, fontFamily: SANS },
      splitLine: { show: false },
    });
    yAxis.push({ type: "value", gridIndex: gi, inverse: true, min: yMin, max: yMax, show: false });

    series.push({
      type: "scatter", xAxisIndex: gi, yAxisIndex: gi, data: [], z: 1, silent: true,
      markLine: { silent: true, symbol: ["none", "none"], label: { show: false }, animation: false,
        lineStyle: { color: ORANGE, width: 0.9, type: "solid" }, data: [{ xAxis: L.orange }] },
    });

    series.push({
      type: "custom", xAxisIndex: gi, yAxisIndex: gi, clip: false, silent: true, z: 2,
      data: p.effects.map((e, i) => [e[0], i, e[1], e[2]]),
      renderItem: (params: any, api: any) => {
        const i = params.dataIndex;
        const row = api.value(1);
        const lo = Math.max(L.min, api.value(2));
        const hi = Math.min(L.max, api.value(3));
        const a = api.coord([lo, row]);
        const b = api.coord([hi, row]);
        const y = a[1];
        const arm = p.arms[i];
        const e = p.effects[i];
        const t = (x: number, text: string, align: string) => ({
          type: "text", x, y,
          style: { text, fontSize: fs, fontFamily: SANS, fill: TXT, align, verticalAlign: "middle" },
        });
        const children: any[] = [
          { type: "line", shape: { x1: a[0], y1: y, x2: b[0], y2: y }, style: { stroke: CI, lineWidth: 0.9 } },
          t(L.x0, p.studies[i], "left"),
        ];
        arm.forEach((v, k) => children.push(t(L.c[k], String(v), "right")));
        children.push(t(L.ci, ciText(e[0], e[1], e[2]), "right"));
        children.push(t(L.w, f2(e[3]), "right"));
        return { type: "group", children };
      },
    });

    series.push({
      type: "scatter", xAxisIndex: gi, yAxisIndex: gi, symbol: "rect", z: 3, silent: true,
      data: p.effects.map((e, i) => [e[0], i, e[3]]),
      symbolSize: (v: number[]) => L.sq * Math.sqrt(v[2] / maxW),
      itemStyle: { color: SQ },
    });

    series.push({
      type: "custom", xAxisIndex: gi, yAxisIndex: gi, clip: false, silent: true, z: 4,
      data: [[p.overall[0], ovIdx, p.overall[1], p.overall[2]]],
      renderItem: (params: any, api: any) => {
        const row = api.value(1);
        const c = api.coord([api.value(0), row]);
        const l = api.coord([api.value(2), row]);
        const r = api.coord([api.value(3), row]);
        const h = Math.max(1.2, L.step * 0.38);
        const y = c[1];
        return {
          type: "group",
          children: [
            { type: "polygon", shape: { points: [[l[0], y], [c[0], y - h], [r[0], y], [c[0], y + h]] },
              style: { fill: "#5b9a3c", stroke: "#3f7a28", lineWidth: 0.4 } },
            { type: "text", x: L.x0, y, style: { text: "Overall", fontSize: fs, fontFamily: SANS, fill: TXT, align: "left", verticalAlign: "middle" } },
            { type: "text", x: L.ci, y, style: { text: ciText(p.overall[0], p.overall[1], p.overall[2]), fontSize: fs, fontFamily: SANS, fill: TXT, align: "right", verticalAlign: "middle" } },
          ],
        };
      },
    });

    const txt = (x: number, y: number, text: string, align = "left") => ({
      type: "text", x, y, silent: true,
      style: { text, fontSize: fs, fontFamily: SANS, fill: TXT, align, verticalAlign: "middle" },
    });
    graphic.push({ type: "text", x: L.x0, y: L.titleY, silent: true,
      style: { text: p.title, fontSize: L.tfs, fontWeight: "bold", fontFamily: SERIF, fill: "#111", align: "left", verticalAlign: "middle" } });
    graphic.push(txt(L.trt, L.h1, "Treatment", "center"));
    graphic.push(txt(L.ctl, L.h1, "Control", "center"));
    graphic.push(txt(L.ci, L.h1, "Mean diff.", "right"));
    graphic.push(txt(L.w, L.h1, "Weight", "right"));
    graphic.push(txt(L.x0, L.h2, "Study", "left"));
    ["N", "Mean", "SD", "N", "Mean", "SD"].forEach((h, k) => graphic.push(txt(L.c[k], L.h2, h, "right")));
    graphic.push(txt(L.ci, L.h2, "with 95% CI", "right"));
    graphic.push(txt(L.w, L.h2, "(%)", "right"));
    graphic.push({ type: "line", silent: true, shape: { x1: L.x0, y1: L.line, x2: L.lineR, y2: L.line }, style: { stroke: "#888", lineWidth: 0.4 } });
    p.het.forEach((h, k) => graphic.push(txt(L.x0, L.het0 + k * L.hetStep, h, "left")));
    graphic.push(txt(L.x0, L.randY, "Random-effects REML model", "left"));
  });

  return { animation: false, backgroundColor: "#ffffff", grid, xAxis, yAxis, series, graphic };
}

export default function App() {
  const ref = useRef<HTMLDivElement>(null);
  useEffect(() => {
    if (!ref.current) return;
    const chart = echarts.init(ref.current, undefined, { renderer: "svg" });
    chart.setOption(buildOption() as any);
    return () => chart.dispose();
  }, []);
  return <div ref={ref} style={{ position: "fixed", left: 0, top: 0, width: 740, height: 471, background: "#fff" }} />;
}
